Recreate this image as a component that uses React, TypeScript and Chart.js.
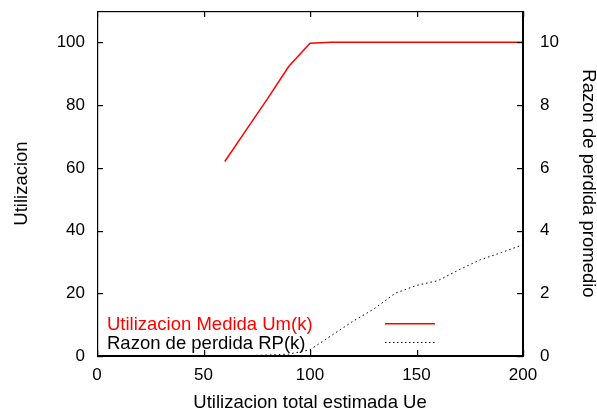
import React, { useEffect, useRef } from "react";
import { Chart, registerables } from "chart.js";

Chart.register(...registerables);

const xValues = [60, 70, 80, 90, 100, 110, 120, 130, 140, 150, 160, 170, 180, 190, 200];
const umValues = [62, 72, 82, 92.3, 99.7, 100, 100, 100, 100, 100, 100, 100, 100, 100, 100];
const rpValues = [0, 0.01, 0.03, 0.06, 0.2, 0.65, 1.1, 1.5, 2.0, 2.25, 2.4, 2.75, 3.07, 3.3, 3.55];
const xTicks = [0, 50, 100, 150, 200];
const yTicks = [0, 20, 40, 60, 80, 100];
const y1Ticks = [0, 2, 4, 6, 8, 10];

const umLabel = "Utilizacion Medida Um(k)";
const rpLabel = "Razon de perdida RP(k)";
const FONT = "'Liberation Sans', Arial, sans-serif";

const framePlugin = {
  id: "frame",
  afterDraw(chart: any) {
    const ctx = chart.ctx;
    const a = chart.chartArea;
    const sx = chart.scales.x;
    const sy = chart.scales.y;
    const sy1 = chart.scales.y1;
    const left = Math.round(a.left);
    const right = Math.round(a.right);
    const top = Math.round(a.top);
    const bottom = Math.round(a.bottom);
    ctx.save();
    ctx.fillStyle = "#000000";
    ctx.fillRect(left, top, right - left, 1.2);
    ctx.fillRect(left, bottom - 1, right - left, 1.2);
    ctx.fillRect(left, top, 1.2, bottom - top);
    ctx.fillRect(right - 1, top, 1.2, bottom - top);
    const tl = 6;
    xTicks.forEach((v) => {
      const px = Math.round(sx.getPixelForValue(v));
      ctx.fillRect(px, bottom - tl, 1.2, tl);
      ctx.fillRect(px, top, 1.2, tl);
    });
    yTicks.forEach((v) => {
      const py = Math.round(sy.getPixelForValue(v));
      ctx.fillRect(left, py, tl, 1.2);
    });
    y1Ticks.forEach((v) => {
      const py = Math.round(sy1.getPixelForValue(v));
      ctx.fillRect(right - tl, py, tl, 1.2);
    });

    ctx.font = "18.5px " + FONT;
    ctx.textBaseline = "middle";
    ctx.textAlign = "left";
    const tx = left + 10;
    const lx0 = left + 288;
    const lx1 = left + 338;
    ctx.fillStyle = "#ff0000";
    ctx.fillText(umLabel, tx, 325);
    ctx.fillRect(lx0, 323, lx1 - lx0, 1.5);
    ctx.fillStyle = "#000000";
    ctx.fillText(rpLabel, tx, 344);
    for (let x = lx0; x < lx1; x += 4) {
      ctx.fillRect(x, 342, 1.5, 1);
    }
    ctx.restore();
  },
};

const zeroPad = (s: any) => {
  s.paddingLeft = 0;
  s.paddingRight = 0;
  s.paddingTop = 0;
  s.paddingBottom = 0;
};

export default function App() {
  const ref = useRef<HTMLCanvasElement>(null);
  useEffect(() => {
    if (!ref.current) return;
    const tickFont = { family: FONT, size: 17, lineHeight: 1 };
    const titleFont = { family: FONT, size: 18.5, lineHeight: 1 };
    const chart = new Chart(ref.current, {
      type: "line",
      data: {
        datasets: [
          {
            label: umLabel,
            data: xValues.map((x, i) => ({ x, y: umValues[i] })),
            borderColor: "#ff0000",
            borderWidth: 1.5,
            pointRadius: 0,
            yAxisID: "y",
            tension: 0,
          },
          {
            label: rpLabel,
            data: xValues.map((x, i) => ({ x, y: rpValues[i] })),
            borderColor: "#000000",
            borderWidth: 1,
            borderDash: [1.5, 3],
            pointRadius: 0,
            yAxisID: "y1",
            tension: 0,
          },
        ],
      },
      options: {
        animation: false,
        responsive: false,
        maintainAspectRatio: false,
        layout: { padding: { left: 13, right: 0, top: 11, bottom: 0 } },
        plugins: { legend: { display: false }, tooltip: { enabled: false } },
        scales: {
          x: {
            type: "linear",
            min: 0,
            max: 200,
            afterBuildTicks: (s: any) => {
              s.ticks = xTicks.map((v) => ({ value: v }));
            },
            afterFit: (s: any) => {
              s.height = 54;
              zeroPad(s);
            },
            ticks: { color: "#000", font: tickFont, padding: 11, maxRotation: 0 },
            grid: { display: false, drawTicks: false },
            border: { display: true, color: "#000", width: 1 },
            title: {
              display: true,
              text: "Utilizacion total estimada Ue",
              color: "#000",
              font: titleFont,
              padding: { top: 7, bottom: -2 },
            },
          },
          y: {
            type: "linear",
            position: "left",
            min: 0,
            max: 110,
            afterBuildTicks: (s: any) => {
              s.ticks = yTicks.map((v) => ({ value: v }));
            },
            afterFit: (s: any) => {
              s.width = 84;
              zeroPad(s);
            },
            ticks: { color: "#000", font: tickFont, padding: 12 },
            grid: { display: false, drawTicks: false },
            border: { display: true, color: "#000", width: 1 },
            title: {
              display: true,
              text: "Utilizacion",
              color: "#000",
              font: titleFont,
              padding: { top: 0, bottom: 0 },
            },
          },
          y1: {
            type: "linear",
            position: "right",
            min: 0,
            max: 11,
            afterBuildTicks: (s: any) => {
              s.ticks = y1Ticks.map((v) => ({ value: v }));
            },
            afterFit: (s: any) => {
              s.width = 74;
              zeroPad(s);
            },
            ticks: { color: "#000", font: tickFont, padding: 17 },
            grid: { display: false, drawTicks: false },
            border: { display: true, color: "#000", width: 1 },
            title: {
              display: true,
              text: "Razon de perdida promedio",
              color: "#000",
              font: titleFont,
              padding: { top: 0, bottom: 0 },
            },
          },
        },
      },
      plugins: [framePlugin],
    });
    return () => chart.destroy();
  }, []);
  return (
    <div style={{ position: "fixed", left: 0, top: 0, width: 597, height: 410, background: "#fff" }}>
      <canvas ref={ref} width={597} height={410} style={{ width: 597, height: 410 }} />
    </div>
  );
}
